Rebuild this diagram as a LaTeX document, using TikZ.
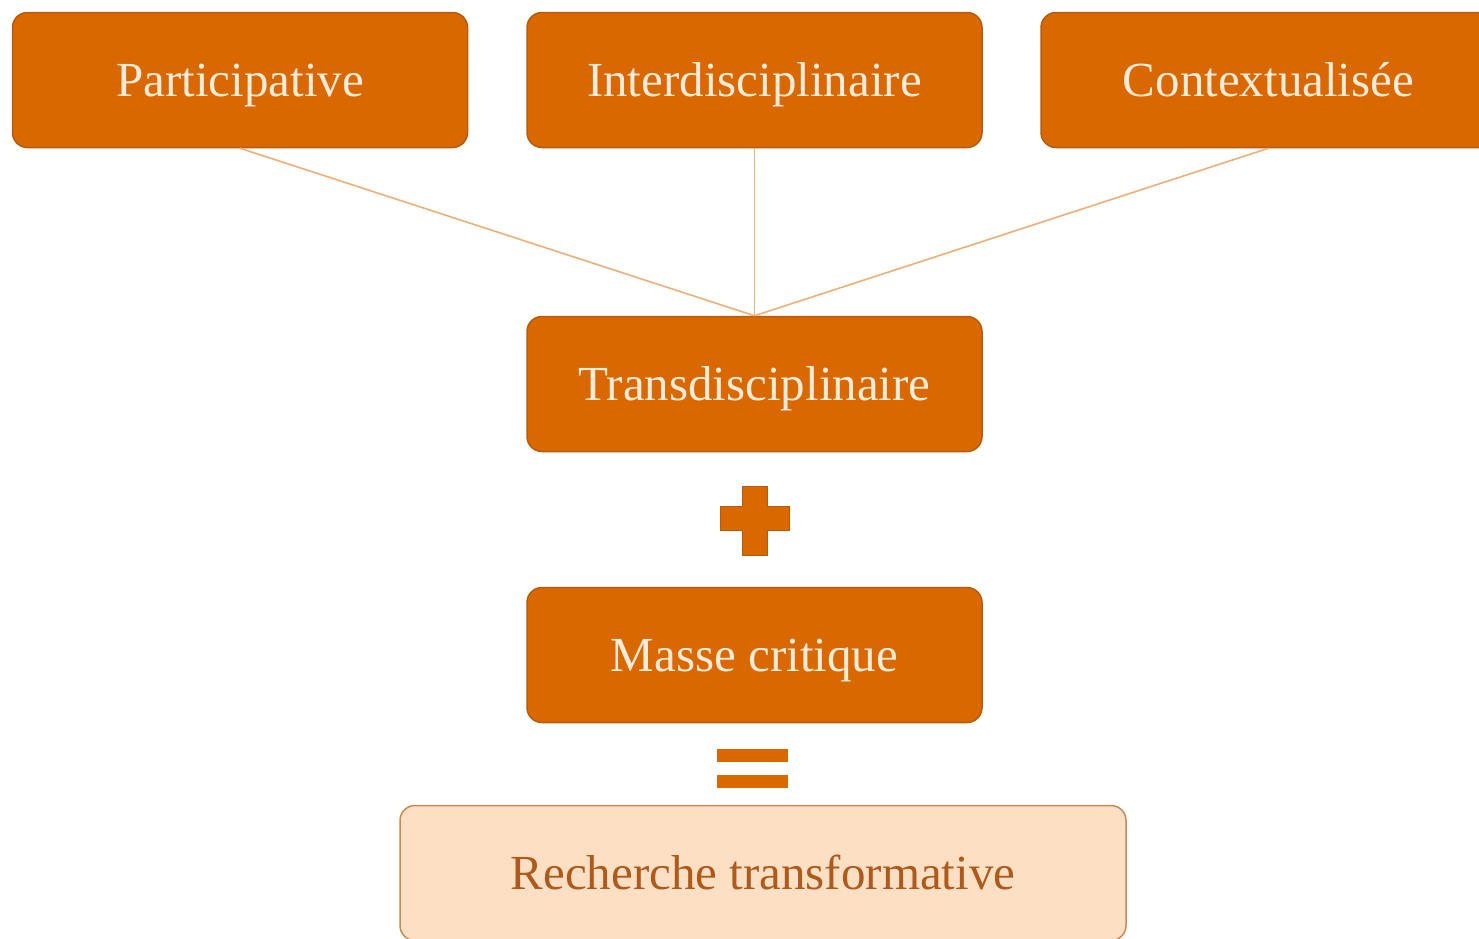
\documentclass[tikz,border=0pt]{standalone}
\usepackage{fontspec}
\setmainfont{Liberation Serif}
\definecolor{boxfill}{HTML}{D96800}
\definecolor{boxedge}{HTML}{B85A08}
\definecolor{boxtext}{HTML}{FDEBD9}
\definecolor{lightfill}{HTML}{FDDFC4}
\definecolor{lightedge}{HTML}{C98A55}
\definecolor{lighttext}{HTML}{AD5A1C}
\definecolor{linkcol}{HTML}{EFAE78}
\begin{document}
\begin{tikzpicture}[x=1pt,y=-1pt,
  darkbox/.style={rectangle, rounded corners=15pt, fill=boxfill, draw=boxedge, line width=1.5pt,
    minimum width=455pt, minimum height=135pt, inner sep=0pt, text=boxtext,
    text height=32pt, text depth=0pt,
    font=\fontsize{49}{52}\selectfont},
  lightbox/.style={rectangle, rounded corners=15pt, fill=lightfill, draw=lightedge, line width=1.5pt,
    minimum width=726pt, minimum height=135pt, inner sep=0pt, text=lighttext,
    text height=32pt, text depth=0pt,
    font=\fontsize{49}{52}\selectfont},
  link/.style={draw=linkcol, line width=1.6pt},
  sign/.style={fill=boxfill, draw=boxedge, line width=1pt}]
\useasboundingbox (0,0) rectangle (1479,938);
\node[darkbox] (part) at (240,80) {Participative};
\node[darkbox] (inter) at (754.5,80) {Interdisciplinaire};
\node[darkbox] (cont) at (1268.5,80) {Contextualisée};
\node[darkbox] (trans) at (754.5,384) {Transdisciplinaire};
\node[darkbox] (masse) at (754.5,655) {Masse critique};
\node[lightbox] (rech) at (763,873) {Recherche transformative};
\draw[link] (part.south) -- (trans.north);
\draw[link] (inter.south) -- (trans.north);
\draw[link] (cont.south) -- (trans.north);
% plus sign
\path[sign] (742,486) -- (767,486) -- (767,506) -- (789,506) -- (789,530) -- (767,530)
  -- (767,555) -- (742,555) -- (742,530) -- (720,530) -- (720,506) -- (742,506) -- cycle;
% equals sign
\path[sign, draw=none] (717,749) rectangle (788,762);
\path[sign, draw=none] (717,775) rectangle (788,788);
\end{tikzpicture}
\end{document}
